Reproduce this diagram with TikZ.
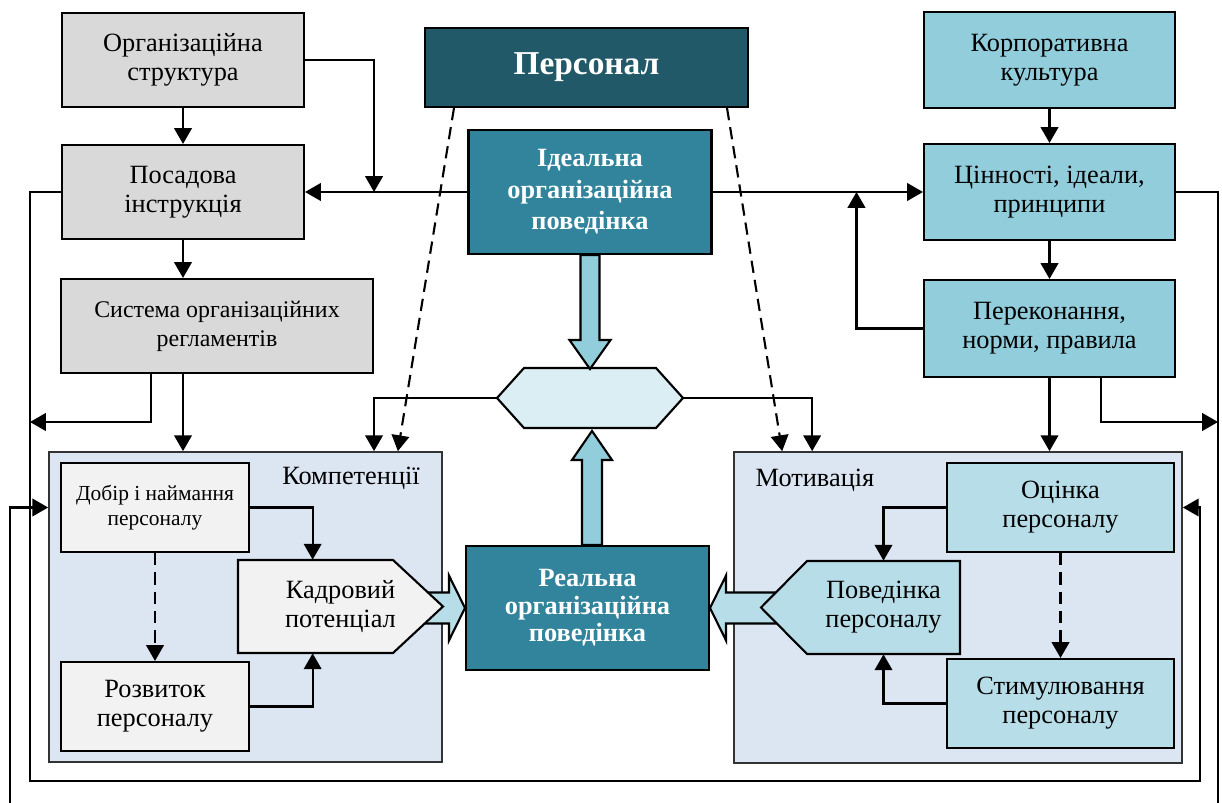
\documentclass[tikz,border=0pt]{standalone}
\usepackage{fontspec}
\setmainfont{Liberation Serif}
\usetikzlibrary{arrows.meta,calc}

\definecolor{cGray}{HTML}{D9D9D9}
\definecolor{cDark}{HTML}{215968}
\definecolor{cTeal}{HTML}{31849B}
\definecolor{cSky}{HTML}{92CDDC}
\definecolor{cIce}{HTML}{DAEEF3}
\definecolor{cPale}{HTML}{DCE6F2}
\definecolor{cSnow}{HTML}{F2F2F2}
\definecolor{cAqua}{HTML}{B7DEE8}

\tikzset{
  box/.style={draw, line width=1.2pt, inner sep=0pt, align=center,
    font=\fontsize{15}{16.5}\selectfont},
  graybox/.style={box, fill=cGray, minimum width=4.84cm, minimum height=1.88cm},
  skybox/.style={box, fill=cSky, minimum width=5.02cm, minimum height=1.92cm},
  snowbox/.style={box, fill=cSnow, minimum width=3.76cm, minimum height=1.78cm},
  aquabox/.style={box, fill=cAqua, minimum width=4.54cm, minimum height=1.78cm},
  tealbox/.style={box, fill=cTeal, text=white, minimum width=4.86cm, minimum height=2.48cm},
  frame/.style={draw=black!80, line width=1pt, fill=cPale, inner sep=0pt},
  ghost/.style={inner sep=0pt, align=center, font=\fontsize{15}{16.5}\selectfont},
  outline/.style={draw, line width=1.2pt, line join=miter},
  conn/.style={draw, line width=1.2pt},
  arr/.style={conn, -{Triangle[length=9pt,width=10pt]}},
  dasharr/.style={arr, dash pattern=on 7pt off 4pt}
}

\begin{document}
\begin{tikzpicture}[x=0.02cm, y=-0.02cm]
    \useasboundingbox (0,0) rectangle (1222,803);

    % Draw the two containers
    \node[frame, minimum width=7.86cm, minimum height=6.2cm] (comp) at (245.5,607) {};
    \node[frame, minimum width=8.96cm, minimum height=6.22cm] (motiv) at (958,607.5) {};
    \node[ghost] (complbl) at (351,478) {Компетенції};
    \node[ghost] (motivlbl) at (815,480) {Мотивація};

    % Draw the left column
    \node[graybox] (orgstr) at (183,60) {Організаційна\\структура};
    \node[graybox] (posad) at (183,192) {Посадова\\інструкція};
    \node[graybox, minimum width=6.24cm, font=\fontsize{13.6}{16.5}\selectfont] (sysreg) at (217,326) {Система організаційних\\регламентів};

    % Draw the centre column
    \node[box, fill=cDark, text=white, minimum width=6.46cm, minimum height=1.58cm,
      font=\bfseries\fontsize{19}{22}\selectfont] (pers) at (586.5,67.5) {Персонал};
    \node[tealbox, font=\bfseries\fontsize{15}{18}\selectfont] (ideal) at (590,192) {Ідеальна\\організаційна\\поведінка};
    \node[tealbox, font=\bfseries\fontsize{15}{15.6}\selectfont] (real) at (587.5,608) {Реальна\\організаційна\\поведінка};

    % Draw the hexagon
    \draw[outline, fill=cIce] (497,398) -- (524,368) -- (656,368) -- (683,398) -- (656,428) -- (524,428) -- cycle;
    \node[inner sep=0pt, minimum width=3.72cm, minimum height=1.2cm] (hex) at (590,398) {};

    % Draw the right column
    \node[skybox] (corp) at (1049.5,60) {Корпоративна\\культура};
    \node[skybox] (values) at (1049.5,192) {Цінності, ідеали,\\принципи};
    \node[skybox, minimum height=1.94cm] (beliefs) at (1049.5,328.5) {Переконання,\\норми, правила};

    % Draw the block arrows
    \draw[outline, fill=cSky] (ideal.south) ++(-9.5,0) -- ++(0,85) -- ++(-11,0) -- ++(20.5,29) -- ++(20.5,-29) -- ++(-11,0) -- ++(0,-85) -- cycle;
    \draw[outline, fill=cSky] ([xshift=0.09cm]real.north) ++(-10,0) -- ++(0,-85) -- ++(-10,0) -- ++(20,-29) -- ++(20,29) -- ++(-10,0) -- ++(0,85) -- cycle;
    \draw[outline, fill=cAqua] (real.west) -- ++(-16,-32.5) -- ++(0,17) -- ++(-30,0) -- ++(0,31) -- ++(30,0) -- ++(0,17) -- cycle;
    \draw[outline, fill=cAqua] (real.east) -- ++(16,-32.5) -- ++(0,17) -- ++(55,0) -- ++(0,31) -- ++(-55,0) -- ++(0,17) -- cycle;

    % Draw the inner boxes
    \node[snowbox, font=\fontsize{12.2}{14}\selectfont] (hire) at (155,507.5) {Добір і наймання\\персоналу};
    \node[snowbox] (devel) at (155,706.5) {Розвиток\\персоналу};
    \draw[outline, fill=cSnow] (238,560) -- (393,560) -- (443,606.5) -- (393,653) -- (238,653) -- cycle;
    \node[ghost, minimum width=4.1cm, minimum height=1.86cm] (potent) at (340.5,606.5) {Кадровий\\потенціал};
    \node[aquabox] (assess) at (1060.5,507.5) {Оцінка\\персоналу};
    \node[aquabox] (stim) at (1060.5,703.5) {Стимулювання\\персоналу};
    \draw[outline, fill=cAqua] (761,607.5) -- (807,561) -- (960,561) -- (960,654) -- (807,654) -- cycle;
    \node[ghost, minimum width=3.06cm, minimum height=1.86cm] (behav) at (883.5,607.5) {Поведінка\\персоналу};

    % Free ends of the feedback lines
    \coordinate (aL) at (30,422);
    \coordinate (aBL) at (30,781);
    \coordinate (aBR) at (1200,781);
    \coordinate (rB) at (1218,422);
    \coordinate (outL) at (10,803);
    \coordinate (outR) at (1218,803);

    % Draw the left connectors
    \draw[arr] (orgstr) -- (posad);
    \draw[arr] (posad.south) -- (posad.south |- sysreg.north);
    \draw[arr] (posad.south |- sysreg.south) -- (posad.south |- comp.north);
    \draw[arr] (orgstr.east) -| (sysreg.east |- posad.east);
    \draw[arr] (ideal.west) -- (posad.east);
    \draw[arr] ([xshift=1.82cm]sysreg.south west) |- (aL);

    % Draw the right connectors
    \draw[arr] (ideal.east) -- (values.west);
    \draw[arr] (corp) -- (values);
    \draw[arr] (values) -- (beliefs);
    \draw[arr] (beliefs.south) -- (beliefs.south |- motiv.north);
    \draw[arr] (beliefs.west) -| ($(ideal.east)!0.684!(values.west)$);
    \draw[arr] ([xshift=3.56cm]beliefs.south west) |- (rB);

    % Draw the hexagon outputs
    \draw[arr] (hex.west) -| (sysreg.east |- comp.north);
    \draw[arr] (hex.east) -| ([xshift=1.58cm]motiv.north west);
    \draw[dasharr] ([xshift=0.6cm]pers.south west) -- ([xshift=-0.9cm]comp.north east);
    \draw[dasharr] ([xshift=-0.44cm]pers.south east) -- ([xshift=0.98cm]motiv.north west);

    % Draw the connectors inside the containers
    \draw[dasharr] (hire) -- (devel);
    \draw[arr] (hire.east) -| ([xshift=1.5cm]potent.north west);
    \draw[arr] (devel.east) -| ([xshift=1.5cm]potent.south west);
    \draw[dasharr] (assess) -- (stim);
    \draw[arr] (assess.west) -| (behav.north);
    \draw[arr] (stim.west) -| (behav.south);

    % Draw the feedback loops
    \draw[arr] (posad.west) -| (aBL) -- (aBR) |- (motiv.east |- assess.east);
    \draw[conn] (values.east) -| (outR);
    \draw[arr] (outL) |- (comp.west |- hire.west);
\end{tikzpicture}
\end{document}
